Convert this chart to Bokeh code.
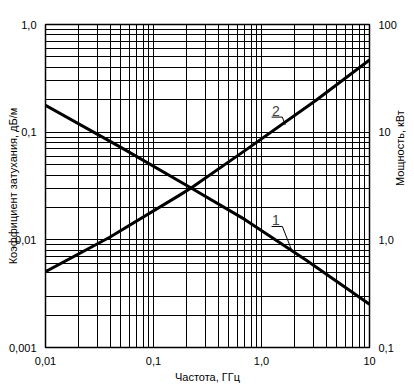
import math
from bokeh.plotting import figure
from bokeh.models import LogAxis, Range1d, FixedTicker, Label, LogScale
from bokeh.embed import file_html
from bokeh.resources import INLINE

# Curve 1: attenuation coefficient, dB/m (left axis)
freq_1 = [0.01, 0.0485, 0.223, 0.705, 2.58, 10.0]
atten_1 = [0.178, 0.0734, 0.0303, 0.0154, 0.00651, 0.00252]

# Curve 2: power, kW (right axis)
freq_2 = [0.01, 0.0393, 0.170, 0.223, 0.734, 3.18, 10.0]
power_2 = [0.506, 1.057, 2.56, 3.03, 6.96, 19.7, 46.9]

x_major = [0.01, 0.1, 1.0, 10.0]
x_labels = ["0,01", "0,1", "1,0", "10"]
yl_major = [0.001, 0.01, 0.1, 1.0]
yl_labels = ["0,001", "0,01", "0,1", "1,0"]
yr_major = [0.1, 1.0, 10.0, 100.0]
yr_labels = ["0,1", "1,0", "10", "100"]
minor_mult = [2, 3, 4, 5, 6, 7, 8, 9]
y_minor_mult_low = [2, 3, 5, 6, 7, 8, 9]   # lowest decade (no 0.004 line)

# curve label positions (text, underline, leader)
lab2_x, lab2_y = 1.36, 0.142
lab2_line_x = [1.24, 1.56, 1.66]
lab2_line_y = [0.138, 0.138, 0.1166]
lab1_x, lab1_y = 1.36, 0.0136
lab1_line_x = [1.24, 1.56, 1.886]
lab1_line_y = [0.01331, 0.01331, 0.0082]

FONT = "Liberation Sans"

p = figure(width=414, height=385, x_axis_type="log", y_axis_type="log",
           x_range=Range1d(0.01, 10), y_range=Range1d(0.001, 1.0),
           output_backend="svg", toolbar_location=None,
           min_border_left=45, min_border_right=39,
           min_border_top=24, min_border_bottom=33)
p.extra_y_ranges = {"power": Range1d(0.1, 100)}
p.extra_y_scales = {"power": LogScale()}

x_minor = [d * m for d in x_major[:-1] for m in minor_mult]
y_minor = [yl_major[0] * m for m in y_minor_mult_low] + \
          [d * m for d in yl_major[1:-1] for m in minor_mult]

p.xaxis.ticker = FixedTicker(ticks=x_major, minor_ticks=x_minor)
p.yaxis.ticker = FixedTicker(ticks=yl_major, minor_ticks=y_minor)
p.xaxis.major_label_overrides = dict(zip(x_major, x_labels))
p.yaxis.major_label_overrides = dict(zip(yl_major, yl_labels))

ra = LogAxis(y_range_name="power", ticker=FixedTicker(ticks=yr_major),
             major_label_overrides=dict(zip(yr_major, yr_labels)))
p.add_layout(ra, "right")

p.xaxis.axis_label = "Частота, ГГц"
p.yaxis.axis_label = "Коэффициент затухания, дБ/м"
ra.axis_label = "Мощность, кВт"
ra.axis_label_orientation = math.pi / 2
p.xaxis.axis_label_standoff = 3
p.yaxis.axis_label_standoff = -13
ra.axis_label_standoff = 0

for ax in [p.xaxis[0], p.yaxis[0], ra]:
    ax.axis_line_color = None
    ax.major_tick_line_color = None
    ax.minor_tick_line_color = None
    ax.major_label_text_font = FONT
    ax.major_label_text_font_size = "11px"
    ax.major_label_text_color = "black"
    ax.major_label_standoff = 3
    ax.axis_label_text_font = FONT
    ax.axis_label_text_font_size = "11px"
    ax.axis_label_text_font_style = "normal"
    ax.axis_label_text_color = "black"

for g in [p.xgrid[0], p.ygrid[0]]:
    g.grid_line_color = "black"
    g.grid_line_width = 1
    g.grid_line_alpha = 1.0
    g.minor_grid_line_color = "black"
    g.minor_grid_line_width = 1
p.xgrid.ticker = FixedTicker(ticks=x_major, minor_ticks=x_minor)
p.ygrid.ticker = FixedTicker(ticks=yl_major, minor_ticks=y_minor)

p.outline_line_color = "black"
p.outline_line_width = 1.5
p.background_fill_color = "white"
p.border_fill_color = "white"

p.line(freq_1, atten_1, line_color="black", line_width=3)
p.line(freq_2, power_2, line_color="black", line_width=3, y_range_name="power")

# curve labels
p.add_layout(Label(x=lab2_x, y=lab2_y, text="2", text_font=FONT, text_font_size="14px",
                   text_align="center", text_baseline="bottom"))
p.line(lab2_line_x, lab2_line_y, line_color="black", line_width=1)
p.add_layout(Label(x=lab1_x, y=lab1_y, text="1", text_font=FONT, text_font_size="14px",
                   text_align="center", text_baseline="bottom"))
p.line(lab1_line_x, lab1_line_y, line_color="black", line_width=1)

open("out.html", "w").write(file_html(p, INLINE))
